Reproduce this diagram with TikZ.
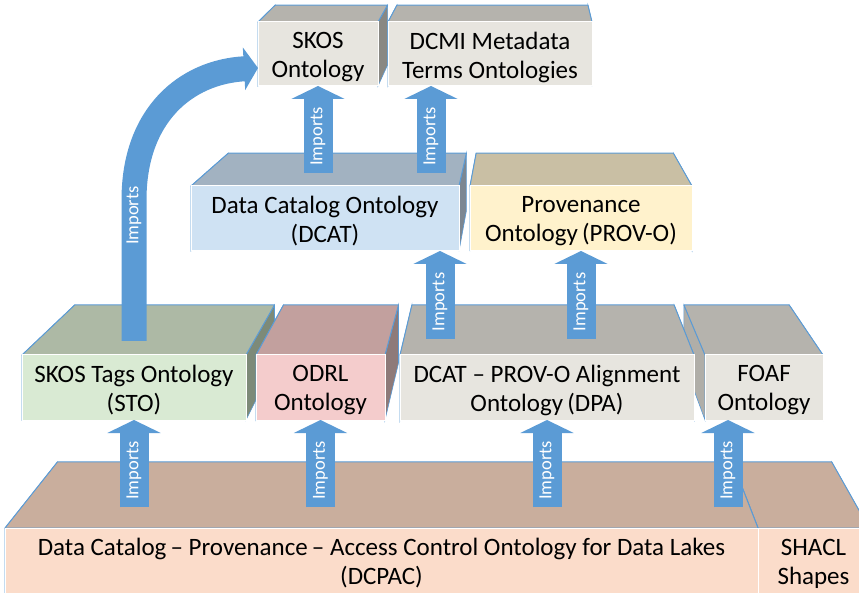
\documentclass[tikz,border=0pt]{standalone}
\usepackage{fontspec}
\setmainfont{Carlito}
\usetikzlibrary{calc, arrows.meta}

\definecolor{edgeblue}{RGB}{91,155,213}
\definecolor{arrowblue}{RGB}{91,155,213}
\definecolor{dcpacTop}{RGB}{201,174,157}
\definecolor{dcpacFront}{RGB}{251,220,202}
\definecolor{dcpacSide}{RGB}{190,165,150}
\definecolor{stoTop}{RGB}{173,185,165}
\definecolor{stoFront}{RGB}{217,234,211}
\definecolor{stoSide}{RGB}{125,138,120}
\definecolor{odrlTop}{RGB}{194,160,158}
\definecolor{odrlFront}{RGB}{244,204,204}
\definecolor{odrlSide}{RGB}{142,122,121}
\definecolor{greyTop}{RGB}{181,179,173}
\definecolor{greyFront}{RGB}{231,229,223}
\definecolor{greySide}{RGB}{137,136,131}
\colorlet{foafTop}{greyTop}
\colorlet{foafFront}{greyFront}
\definecolor{foafSide}{RGB}{176,174,168}
\definecolor{dcatTop}{RGB}{162,178,193}
\definecolor{dcatFront}{RGB}{207,226,243}
\definecolor{dcatSide}{RGB}{124,135,146}
\definecolor{provTop}{RGB}{201,191,164}
\definecolor{provFront}{RGB}{255,242,204}
\definecolor{provSide}{RGB}{150,142,120}

\tikzset{
  topface/.style={draw=edgeblue, line width=1pt, line join=round},
  sideface/.style={draw=edgeblue, line width=.6pt},
  frontface/.style={draw=white, line width=1pt, inner sep=0pt, outer sep=0pt},
  fronttext/.style={inner sep=0pt, align=center, font=\fontsize{25}{29}\selectfont},
  imports/.style={draw=arrowblue, line width=29pt, -{Triangle[width=53pt,length=13pt]}},
  implabel/.style={sloped, text=white, inner sep=0pt, font=\fontsize{18.5}{20}\selectfont},
}

% name, left, top, right, bottom, vanishing point, depth, colours, text
\newcommand{\ontobox}[9]{%
  \path (#2,#3) coordinate (#1-a) (#4,#3) coordinate (#1-b)
        (#4,#5) coordinate (#1-c) (#2,#5) coordinate (#1-d);
  \path ($(#1-a)!#7!(#6)$) coordinate (#1-ba) ($(#1-b)!#7!(#6)$) coordinate (#1-bb)
        ($(#1-c)!#7!(#6)$) coordinate (#1-bc) ($(#1-d)!#7!(#6)$) coordinate (#1-bd);
  \filldraw[sideface, fill=#8Side] (#1-a) -- (#1-ba) -- (#1-bd) -- (#1-d) -- cycle;
  \filldraw[sideface, fill=#8Side] (#1-b) -- (#1-bb) -- (#1-bc) -- (#1-c) -- cycle;
  \filldraw[topface, fill=#8Top] (#1-a) -- (#1-ba) -- (#1-bb) -- (#1-b) -- cycle;
  \node[frontface, fill=#8Front, minimum width=#4-#2, minimum height=#5-#3]
    (#1) at ($(#1-a)!.5!(#1-c)$) {};
  \node[fronttext] (#1-t) at ([yshift=-3pt]#1.center) {#9};
}

\begin{document}
\begin{tikzpicture}[x=1pt, y=-1pt]
\useasboundingbox (0,0) rectangle (859,593);
\clip (0,0) rectangle (859,593);
\coordinate (vplow) at (510,-108);
\coordinate (vpmid) at (525,-108);
\coordinate (vptop) at (528,-243);

\ontobox{shacl}{758}{528}{869}{593}{vplow}{.1038}{dcpac}{SHACL\\Shapes}
\ontobox{dcpac}{5}{528}{758}{593}{vplow}{.1038}{dcpac}{Data Catalog\,– Provenance\,– Access Control Ontology for Data Lakes\\(DCPAC)}
\ontobox{sto}{22}{355}{246}{420}{vplow}{.108}{sto}{SKOS Tags Ontology\\(STO)}
\ontobox{odrl}{256}{355}{385}{420}{vplow}{.108}{odrl}{ODRL\\Ontology}
\ontobox{foaf}{705}{355}{823}{420}{vplow}{.108}{foaf}{FOAF\\Ontology}
\ontobox{dpa}{400}{355}{694}{420}{vplow}{.108}{grey}{DCAT – PROV-O Alignment\\Ontology\,(DPA)}
\ontobox{dcat}{191}{186}{459}{251}{vpmid}{.112}{dcat}{Data Catalog Ontology\\(DCAT)}
\ontobox{prov}{470}{186}{692}{251}{vpmid}{.112}{prov}{Provenance\\Ontology\,(PROV-O)}
\ontobox{skos}{258}{22}{378}{86}{vptop}{.064}{grey}{SKOS\\Ontology}
\ontobox{dcmi}{388}{22}{592}{86}{vptop}{.064}{grey}{DCMI Metadata\\Terms Ontologies}

\draw[imports] ($(sto.south |- dcpac.north)+(0,-21)$) -- node[implabel, pos=.42] {Imports} (sto.south);
\draw[imports] ($(odrl.south |- dcpac.north)+(0,-21)$) -- node[implabel, pos=.42] {Imports} (odrl.south);
\draw[imports] ($(dpa.south |- dcpac.north)+(0,-21)$) -- node[implabel, pos=.42] {Imports} (dpa.south);
\draw[imports] ($(foaf.south |- dcpac.north)+(-36,-21)$) -- node[implabel, pos=.42] {Imports} ($(foaf.south)+(-36,0)$);
\draw[imports] ($(dcat.south |- dpa.north)+(115,-16)$) -- node[implabel, pos=.42] {Imports} ($(dcat.south)+(115,0)$);
\draw[imports] ($(prov.south |- dpa.north)+(0,-16)$) -- node[implabel, pos=.42] {Imports} (prov.south);
\draw[imports] ($(skos.south |- dcat.north)+(0,-13)$) -- node[implabel, pos=.42] {Imports} (skos.south);
\draw[imports] ($(dcmi.south |- dcat.north)+(-59,-13)$) -- node[implabel, pos=.42] {Imports} ($(dcmi.south)+(-59,0)$);
\draw[imports, line width=25pt, -{Triangle[width=42pt,length=14pt]}]
  ($(sto.north)+(0,-14)$) -- node[implabel, pos=.89] {Imports} ++(0,-141)
  .. controls +(0,-85) and +(-72,4) .. ([yshift=-14pt]skos.west);
\end{tikzpicture}
\end{document}
